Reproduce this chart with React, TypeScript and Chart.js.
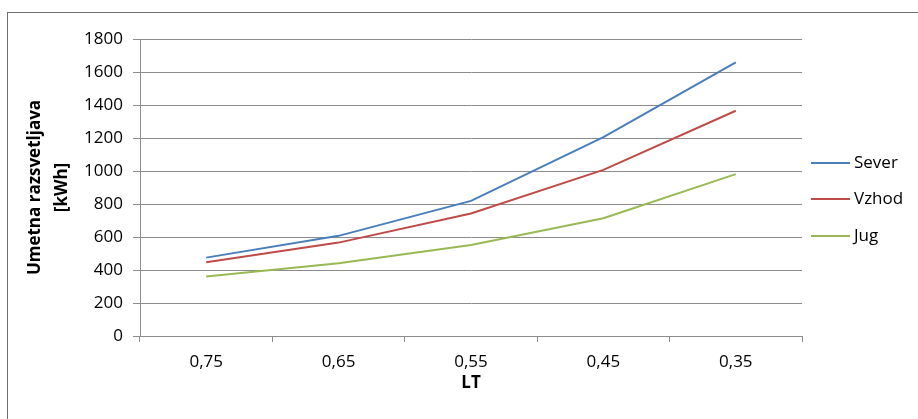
import React, { useEffect, useRef } from "react";
import { Chart, registerables } from "chart.js";

Chart.register(...registerables);

const categories = ["0,75", "0,65", "0,55", "0,45", "0,35"];
const sever = [475, 607, 819, 1205, 1658];
const vzhod = [447, 566, 742, 1007, 1365];
const jug = [360, 441, 551, 714, 981];
const seriesNames = ["Sever", "Vzhod", "Jug"];
const seriesColors = ["#4A7EBB", "#BE4B48", "#98B954"];
const yTitle = ["Umetna razsvetljava", "[kWh]"];
const xTitle = "LT";

const FONT = "'Open Sans', 'Liberation Sans', sans-serif";

const overlay = {
  id: "overlay",
  afterDraw(chart: any) {
    const ctx = chart.ctx;
    const a = chart.chartArea;
    ctx.save();
    ctx.fillStyle = "#000";
    // y title
    ctx.font = `bold 17px ${FONT}`;
    ctx.textAlign = "center";
    ctx.textBaseline = "middle";
    const cy = (a.top + a.bottom) / 2;
    const xs = [35, 62];
    yTitle.forEach((t, i) => {
      ctx.save();
      ctx.translate(xs[i], cy);
      ctx.rotate(-Math.PI / 2);
      ctx.fillText(t, 0, 0);
      ctx.restore();
    });
    // x title
    ctx.fillText(xTitle, (a.left + a.right) / 2, 383);
    // legend
    ctx.font = `17px ${FONT}`;
    ctx.textAlign = "left";
    const ly = [163, 199, 236];
    seriesNames.forEach((n, i) => {
      ctx.strokeStyle = seriesColors[i];
      ctx.lineWidth = 2;
      ctx.beginPath();
      ctx.moveTo(811, ly[i]);
      ctx.lineTo(850, ly[i]);
      ctx.stroke();
      ctx.fillStyle = "#000";
      ctx.fillText(n, 854, ly[i]);
    });
    ctx.restore();
  },
};

export default function App() {
  const ref = useRef<HTMLCanvasElement>(null);
  useEffect(() => {
    document.body.style.margin = "0";
    const values = [sever, vzhod, jug];
    const chart = new Chart(ref.current!, {
      type: "line",
      data: {
        labels: categories,
        datasets: seriesNames.map((n, i) => ({
          label: n,
          data: values[i],
          borderColor: seriesColors[i],
          backgroundColor: seriesColors[i],
          borderWidth: 2,
          pointRadius: 0,
          tension: 0,
        })),
      },
      options: {
        animation: false,
        responsive: false,
        events: [],
        layout: { padding: { left: 0, right: 116, top: 39, bottom: 0 } },
        plugins: { legend: { display: false }, tooltip: { enabled: false } },
        scales: {
          x: {
            offset: true,
            grid: {
              offset: true,
              display: true,
              drawOnChartArea: false,
              drawTicks: true,
              tickLength: 6,
              color: "#8c8c8c",
            },
            border: { color: "#8c8c8c", width: 1 },
            ticks: {
              font: { family: FONT, size: 17 },
              color: "#000",
              padding: 10,
              maxRotation: 0,
            },
            afterFit(scale: any) {
              scale.height = 83;
            },
          },
          y: {
            min: 0,
            max: 1800,
            ticks: {
              stepSize: 200,
              font: { family: FONT, size: 17 },
              color: "#000",
              padding: 10,
              callback: (v: any) => String(v),
            },
            grid: { color: "#8c8c8c", tickLength: 7 },
            border: { color: "#8c8c8c", width: 1 },
            afterFit(scale: any) {
              scale.width = 140;
            },
          },
        },
      },
      plugins: [overlay],
    });
    return () => chart.destroy();
  }, []);
  return (
    <div style={{ position: "relative", width: 918, height: 419, overflow: "hidden", background: "#fff" }}>
      <div
        style={{
          position: "absolute",
          left: 7,
          top: 12,
          width: 930,
          height: 430,
          border: "1px solid #6e6e6e",
          boxSizing: "border-box",
        }}
      />
      <canvas ref={ref} width={918} height={419} style={{ position: "absolute", left: 0, top: 0 }} />
    </div>
  );
}
